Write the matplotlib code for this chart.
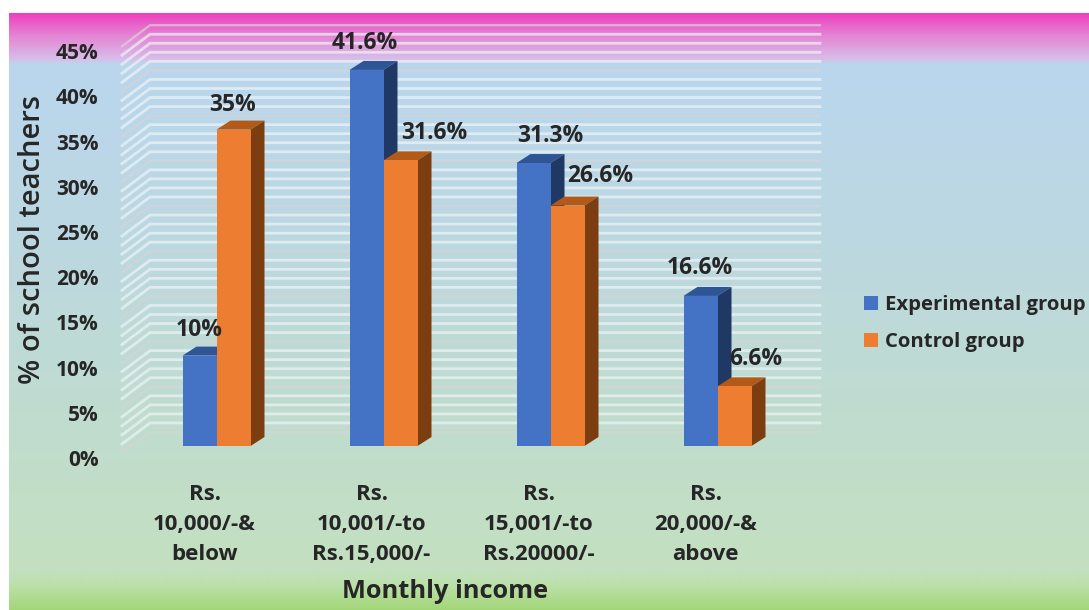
import matplotlib
matplotlib.use('Agg')
import matplotlib.pyplot as plt
import matplotlib.transforms as mtrans
from matplotlib.colors import to_rgb
from matplotlib.patches import Polygon
import numpy as np

plt.rcParams['font.family'] = ['Open Sans', 'DejaVu Sans']

categories = ['Rs.\n10,000/-&\nbelow', 'Rs.\n10,001/-to\nRs.15,000/-',
              'Rs.\n15,001/-to\nRs.20000/-', 'Rs.\n20,000/-&\nabove']
experimental = [10, 41.6, 31.3, 16.6]
control = [35, 31.6, 26.6, 6.6]
experimental_labels = ['10%', '41.6%', '31.3%', '16.6%']
control_labels = ['35%', '31.6%', '26.6%', '6.6%']
y_ticks = [0, 5, 10, 15, 20, 25, 30, 35, 40, 45]
grid_levels = list(range(0, 46))

W, H = 1089, 610
fig = plt.figure(figsize=(W / 100, H / 100), dpi=100, facecolor='white')

# gradient background
bg = fig.add_axes([0, 0, 1, 1], zorder=0)
stops_y = [13, 35, 58, 64, 250, 570, 585, 610]
stops_c = ['#ee40c0', '#e484d4', '#d8bce8', '#bad6ee', '#bcd8e0', '#c4e0c0', '#bce0aa', '#a2d676']
rows = np.arange(13, 610)
grad = np.stack([np.interp(rows, stops_y, [to_rgb(c)[i] for c in stops_c]) for i in range(3)], axis=1)
bg.imshow(grad[:, None, :], extent=[9, W, 610, 13], aspect='auto', interpolation='bilinear')
bg.set_xlim(0, W)
bg.set_ylim(H, 0)
bg.axis('off')

# axes: one x unit = 167px, one y unit = 9.04px
px_x = 1 / 167
px_y = 1 / 9.04
left = 122
right = 820
x0 = (left - 216.5) * px_x
x1 = (right - 216.5) * px_x
y0 = (446 - 453) * px_y
y1 = (446 - 25) * px_y
ax = fig.add_axes([left / W, 1 - 453 / H, (right - left) / W, (453 - 25) / H], zorder=1)
ax.set_xlim(x0, x1)
ax.set_ylim(y0, y1)
ax.patch.set_visible(False)
for s in ax.spines.values():
    s.set_visible(False)

# walls
wall_dx = 28 * px_x
wall_dy = 21 * px_y
for v in grid_levels:
    if v % 5 == 0:
        col, lw = '#d8d4d4', 1.6
    else:
        col, lw = '#eef4f6', 2.0
    ax.plot([x0, x0 + wall_dx, x1], [v + y0, v + y0 + wall_dy, v + y0 + wall_dy],
            color=col, lw=lw, alpha=0.7, zorder=1, clip_on=False, solid_joinstyle='miter')

# bars with fake 3d depth
bar_w = 34 * px_x
depth_x = 14 * px_x
depth_y = 9 * px_y
x = np.arange(len(categories))


def draw_series(xs, vals, front, top, side, name, z):
    bars = ax.bar(xs, vals, width=bar_w, color=front, label=name, zorder=z + 1)
    for xi, v in zip(xs, vals):
        l, r = xi - bar_w / 2, xi + bar_w / 2
        ax.add_patch(Polygon([(l, v), (l + depth_x, v + depth_y), (r + depth_x, v + depth_y), (r, v)],
                             color=top, lw=0, zorder=z))
        ax.add_patch(Polygon([(r, 0), (r + depth_x, depth_y), (r + depth_x, v + depth_y), (r, v)],
                             color=side, lw=0, zorder=z))
    return bars


b1 = draw_series(x - bar_w / 2, experimental, '#4472c4', '#2f5597', '#1f3864', 'Experimental group', 3)
b2 = draw_series(x + bar_w / 2, control, '#ed7d31', '#b35a18', '#7c3e10', 'Control group', 5)

# data labels, nudged by hand like in the original
text_col = '#262626'
exp_nudge = [(0, 26), (-2, 27), (17, 27), (-1, 28)]
ctl_nudge = [(-1, 25), (34, 27), (33, 30), (21, 27)]
for xs, vals, labs, nudge in [(x - bar_w / 2, experimental, experimental_labels, exp_nudge),
                              (x + bar_w / 2, control, control_labels, ctl_nudge)]:
    for xi, v, lab, (dx, dy) in zip(xs, vals, labs, nudge):
        ax.annotate(lab, (xi, v), xytext=(dx * 0.72, dy * 0.72), textcoords='offset points',
                    ha='center', va='center', fontsize=16.5, fontweight='bold',
                    color=text_col, zorder=10, annotation_clip=False)

# ticks, labels sit a bit left of the bars and lower than the gridlines
ax.set_xticks(x)
ax.set_xticklabels(categories, fontsize=16, fontweight='bold', color=text_col, linespacing=1.56)
ax.tick_params(axis='x', length=0, pad=22.5)
xshift = mtrans.ScaledTranslation(-12 / 100, 0, fig.dpi_scale_trans)
for lab in ax.get_xticklabels():
    lab.set_transform(lab.get_transform() + xshift)
ax.set_yticks(y_ticks)
ax.set_yticklabels([f'{v}%' for v in y_ticks], fontsize=15, fontweight='bold', color=text_col)
ax.tick_params(axis='y', length=0, pad=17)
shift = mtrans.ScaledTranslation(0, -12 / 100, fig.dpi_scale_trans)
for lab in ax.get_yticklabels():
    lab.set_transform(lab.get_transform() + shift)

fig.text(33 / W, 1 - 240 / H, '% of school teachers', rotation=90, ha='center', va='center',
         fontsize=21, fontweight='semibold', color=text_col)
fig.text(445 / W, 1 - 592 / H, 'Monthly income', ha='center', va='center',
         fontsize=18.3, fontweight='bold', color=text_col)

fig.legend(handles=[b1, b2], loc='upper left', bbox_to_anchor=(850 / W, 1 - 281 / H), frameon=False,
           prop={'size': 14.6, 'weight': 'bold'}, labelcolor=text_col,
           handlelength=0.67, handleheight=0.67, handletextpad=0.38, labelspacing=0.85, borderpad=0.2)

fig.savefig('out.png', dpi=100)
